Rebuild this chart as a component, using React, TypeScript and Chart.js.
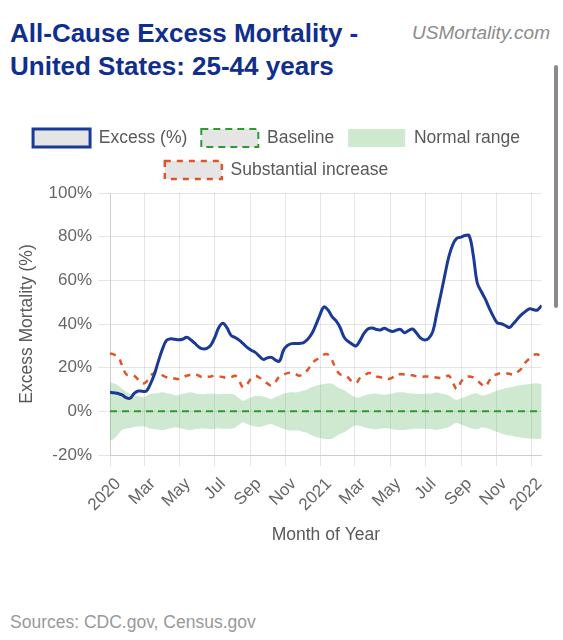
import React, { useEffect, useRef } from "react";
import { Chart, registerables } from "chart.js";

Chart.register(...registerables);

// ---- data (weekly, starting on the first week of 2020) ----
const START_DATE = "2020-01-01";
const DAYS_PER_POINT = 7;

const excessPct = [
  8.7, 8.5, 8.2, 7.5, 6.3, 6.0, 8.2, 9.3, 9.2, 9.3,
  12.5, 17.0, 23.0, 28.5, 32.5, 33.2, 33.0, 32.8, 33.0, 33.9,
  32.8, 31.2, 29.5, 28.6, 28.8, 30.3, 34.0, 38.5, 40.3, 38.2,
  34.8, 33.8, 32.6, 31.0, 29.3, 28.0, 27.0, 25.3, 23.8, 24.5,
  24.7, 23.5, 23.0, 28.0, 30.2, 31.0, 31.1, 31.1, 31.5, 33.0,
  35.5, 39.5, 44.0, 47.8, 46.5, 43.5, 41.5, 38.5, 34.0, 32.0,
  30.8, 30.0, 32.5, 35.8, 37.8, 38.2, 37.5, 37.3, 38.0, 37.2,
  36.6, 37.2, 37.5, 36.0, 37.0, 37.7, 35.8, 33.5, 32.7, 33.5,
  36.5, 45.0, 53.5, 62.5, 71.0, 76.5, 79.3, 79.8, 80.5, 80.5,
  72.0, 59.0, 55.0, 51.5, 47.3, 43.5, 40.5, 40.1, 39.3, 38.4,
  40.2, 42.3, 44.3, 45.8, 47.0, 46.5, 46.5, 48.5,
];

const baselinePct = [
  0, 0, 0, 0, 0, 0, 0, 0, 0, 0,
  0, 0, 0, 0, 0, 0, 0, 0, 0, 0,
  0, 0, 0, 0, 0, 0, 0, 0, 0, 0,
  0, 0, 0, 0, 0, 0, 0, 0, 0, 0,
  0, 0, 0, 0, 0, 0, 0, 0, 0, 0,
  0, 0, 0, 0, 0, 0, 0, 0, 0, 0,
  0, 0, 0, 0, 0, 0, 0, 0, 0, 0,
  0, 0, 0, 0, 0, 0, 0, 0, 0, 0,
  0, 0, 0, 0, 0, 0, 0, 0, 0, 0,
  0, 0, 0, 0, 0, 0, 0, 0, 0, 0,
  0, 0, 0, 0, 0, 0, 0, 0,
];

const normalUpperPct = [
  13.3, 12.8, 12.0, 10.3, 9.0, 8.0, 7.4, 7.0, 6.5, 7.0,
  8.0, 8.2, 8.4, 8.7, 8.3, 8.0, 7.4, 7.4, 8.0, 8.4,
  8.7, 8.3, 8.0, 7.8, 8.0, 8.2, 8.0, 7.8, 8.0, 8.0,
  8.0, 7.4, 6.0, 4.9, 5.6, 6.4, 7.0, 7.0, 6.8, 6.2,
  5.7, 6.5, 7.2, 8.0, 8.5, 8.7, 8.7, 9.0, 9.5, 10.0,
  11.0, 11.7, 12.2, 12.5, 12.8, 12.6, 11.5, 10.5, 9.8, 8.5,
  7.2, 6.2, 6.6, 7.2, 7.8, 8.1, 8.2, 7.8, 7.6, 7.9,
  8.2, 8.6, 8.7, 8.6, 8.3, 8.1, 8.0, 8.0, 8.0, 8.1,
  8.3, 8.6, 8.2, 7.8, 7.3, 6.0, 5.2, 6.0, 6.6, 7.4,
  8.0, 8.2, 7.4, 7.4, 8.0, 8.8, 9.5, 10.0, 10.6, 11.0,
  11.3, 11.8, 12.1, 12.3, 12.5, 12.7, 12.8, 12.5,
];

const normalLowerPct = [
  -13.4, -12.5, -10.5, -8.5, -8.0, -7.6, -7.2, -7.0, -6.8, -7.2,
  -8.0, -8.2, -8.4, -8.6, -8.2, -7.8, -7.4, -7.5, -8.0, -8.4,
  -8.6, -8.2, -8.0, -7.9, -8.0, -8.2, -8.0, -7.9, -8.0, -8.0,
  -8.0, -7.4, -6.2, -5.0, -5.8, -6.5, -7.0, -7.1, -6.8, -6.2,
  -5.8, -6.6, -7.3, -8.0, -8.5, -8.8, -8.8, -9.0, -9.5, -10.0,
  -11.0, -11.8, -12.2, -12.6, -12.8, -12.5, -11.5, -10.4, -9.6, -8.4,
  -7.2, -6.4, -6.7, -7.3, -7.8, -8.1, -8.2, -7.9, -7.7, -7.9,
  -8.2, -8.5, -8.6, -8.5, -8.3, -8.1, -8.0, -8.0, -8.0, -8.1,
  -8.3, -8.5, -8.1, -7.7, -7.2, -6.0, -5.3, -6.0, -6.7, -7.4,
  -8.0, -8.2, -7.5, -7.5, -8.0, -8.8, -9.5, -10.1, -10.7, -11.1,
  -11.4, -11.8, -12.1, -12.3, -12.5, -12.6, -12.7, -12.6,
];

const substantialPct = [
  26.5, 26.0, 25.0, 21.0, 17.0, 16.5, 16.2, 14.5, 12.8, 13.5,
  16.3, 17.5, 17.5, 16.5, 15.6, 15.3, 15.0, 14.8, 15.6, 16.3,
  16.8, 17.1, 16.3, 15.6, 15.8, 16.0, 16.3, 16.0, 15.7, 15.3,
  15.6, 16.3, 14.0, 11.0, 12.5, 15.0, 16.2, 15.5, 14.0, 12.8,
  11.8, 13.5, 16.0, 16.8, 17.5, 17.6, 17.0, 16.3, 17.5, 19.0,
  21.7, 23.5, 24.5, 26.0, 26.0, 23.5, 19.5, 17.0, 16.5, 15.5,
  13.5, 13.0, 15.3, 16.3, 17.5, 17.2, 16.0, 15.6, 15.3, 14.8,
  15.5, 16.8, 17.0, 16.9, 16.8, 16.5, 16.0, 15.9, 15.9, 15.9,
  15.8, 15.5, 15.3, 15.6, 16.3, 13.0, 10.2, 13.5, 15.6, 16.0,
  15.5, 14.2, 12.5, 11.3, 14.0, 16.3, 17.0, 17.6, 17.5, 17.2,
  16.8, 18.0, 19.6, 22.5, 24.2, 25.8, 26.0, 24.7,
];

const tickDates = [
  "2020-01-01", "2020-03-01", "2020-05-01", "2020-07-01", "2020-09-01", "2020-11-01",
  "2021-01-01", "2021-03-01", "2021-05-01", "2021-07-01", "2021-09-01", "2021-11-01",
  "2022-01-01",
];
const tickLabels = [
  "2020", "Mar", "May", "Jul", "Sep", "Nov",
  "2021", "Mar", "May", "Jul", "Sep", "Nov",
  "2022",
];
const yTicks = [-20, 0, 20, 40, 60, 80, 100];

const FONT = '"Liberation Sans", Arial, Helvetica, sans-serif';
const CANVAS_W = 553;
const CANVAS_H = 445;

export default function App() {
  const ref = useRef<HTMLCanvasElement | null>(null);

  useEffect(() => {
    if (!ref.current) return;
    const t0 = Date.parse(START_DATE);
    const dayOf = (s: string) => Math.round((Date.parse(s) - t0) / 86400000);
    const toPts = (arr: number[]) => arr.map((y, i) => ({ x: i * DAYS_PER_POINT, y }));
    const tickPos = tickDates.map(dayOf);
    const lastX = (excessPct.length - 1) * DAYS_PER_POINT;

    const legendGap = {
      id: "legendGap",
      beforeLayout(chart: any) {
        const lg = chart.legend;
        if (lg && !lg.__patched) {
          const orig = lg.fit.bind(lg);
          lg.fit = function () {
            orig();
            this.height += 4;
          };
          lg.__patched = true;
        }
      },
    };

    Chart.defaults.font.family = FONT;
    Chart.defaults.color = "#666";

    const chart = new Chart(ref.current, {
      type: "line",
      data: {
        datasets: [
          {
            label: "Excess (%)",
            data: toPts(excessPct),
            borderColor: "#1b3a95",
            backgroundColor: "rgba(0,0,0,0.1)",
            borderWidth: 3,
            pointRadius: 0,
            tension: 0.4,
            fill: false,
          },
          {
            label: "Baseline",
            data: toPts(baselinePct),
            borderColor: "#2f9a32",
            backgroundColor: "rgba(0,0,0,0.1)",
            borderWidth: 2,
            borderDash: [7, 5],
            pointRadius: 0,
            tension: 0,
            fill: false,
          },
          {
            label: "Normal range",
            data: toPts(normalUpperPct),
            borderColor: "rgba(0,0,0,0)",
            backgroundColor: "rgba(76,175,80,0.27)",
            borderWidth: 0,
            pointRadius: 0,
            tension: 0.4,
            fill: 4,
          },
          {
            label: "Substantial increase",
            data: toPts(substantialPct),
            borderColor: "#e0532b",
            backgroundColor: "rgba(0,0,0,0.1)",
            borderWidth: 2.5,
            borderDash: [6, 6],
            pointRadius: 0,
            tension: 0.4,
            fill: false,
          },
          {
            label: "lower",
            data: toPts(normalLowerPct),
            borderColor: "rgba(0,0,0,0)",
            backgroundColor: "rgba(0,0,0,0)",
            borderWidth: 0,
            pointRadius: 0,
            tension: 0.4,
            fill: false,
          },
        ],
      },
      options: {
        animation: false,
        responsive: false,
        devicePixelRatio: 1,
        layout: { padding: 0 },
        plugins: {
          legend: {
            position: "top",
            labels: {
              boxWidth: 57,
              boxHeight: 18,
              padding: 14,
              color: "#595959",
              font: { size: 17.5, family: FONT },
              filter: (item: any) => item.datasetIndex !== 4,
            },
          },
          tooltip: { enabled: false },
        },
        scales: {
          x: {
            type: "linear",
            min: 0,
            max: lastX,
            afterBuildTicks: (scale: any) => {
              scale.ticks = tickPos.map((v) => ({ value: v }));
            },
            afterFit: (scale: any) => {
              scale.height = 105;
              scale.paddingRight = 11.3;
            },
            ticks: {
              autoSkip: false,
              maxRotation: 45,
              minRotation: 45,
              padding: 8,
              labelOffset: 8,
              color: "#666",
              font: { size: 17, family: FONT },
              callback: (_v: any, i: number) => tickLabels[i],
            },
            grid: { color: "rgba(0,0,0,0.1)", tickLength: 11 },
            title: {
              display: true,
              text: "Month of Year",
              color: "#595959",
              font: { size: 17.5, family: FONT },
              padding: { top: 10, bottom: 14.5 },
            },
          },
          y: {
            min: -20,
            max: 100,
            afterBuildTicks: (scale: any) => {
              scale.ticks = yTicks.map((v) => ({ value: v }));
            },
            afterFit: (scale: any) => {
              scale.width = 110;
            },
            ticks: {
              padding: 6,
              color: "#666",
              font: { size: 17, family: FONT },
              callback: (v: any) => v + "%",
            },
            grid: { color: "rgba(0,0,0,0.1)", tickLength: 12 },
            title: {
              display: true,
              text: "Excess Mortality (%)",
              color: "#595959",
              font: { size: 17.5, family: FONT },
              padding: { top: 17, bottom: 10 },
            },
          },
        },
      },
      plugins: [legendGap],
    } as any);

    return () => chart.destroy();
  }, []);

  return (
    <div
      style={{
        position: "absolute",
        left: 0,
        top: 0,
        width: 563,
        height: 640,
        background: "#fff",
        overflow: "hidden",
        fontFamily: FONT,
      }}
    >
      <div
        style={{
          position: "absolute",
          left: 10,
          top: 17,
          fontWeight: "bold",
          fontSize: 26,
          lineHeight: "33px",
          color: "#102e8e",
          whiteSpace: "nowrap",
        }}
      >
        All-Cause Excess Mortality -<br />
        United States: 25-44 years
      </div>
      <div
        style={{
          position: "absolute",
          right: 13,
          top: 23,
          fontStyle: "italic",
          fontSize: 19,
          lineHeight: "20px",
          color: "#8c8c8c",
        }}
      >
        USMortality.com
      </div>
      <div
        style={{
          position: "absolute",
          left: 554,
          top: 65,
          width: 4,
          height: 243,
          background: "#8a8a8a",
          borderRadius: 2,
        }}
      />
      <canvas
        ref={ref}
        width={CANVAS_W}
        height={CANVAS_H}
        style={{ position: "absolute", left: 0, top: 115, width: CANVAS_W, height: CANVAS_H }}
      />
      <div
        style={{
          position: "absolute",
          left: 10,
          top: 612,
          fontSize: 17.5,
          lineHeight: "20px",
          color: "#999",
          whiteSpace: "nowrap",
        }}
      >
        Sources: CDC.gov, Census.gov
      </div>
    </div>
  );
}
